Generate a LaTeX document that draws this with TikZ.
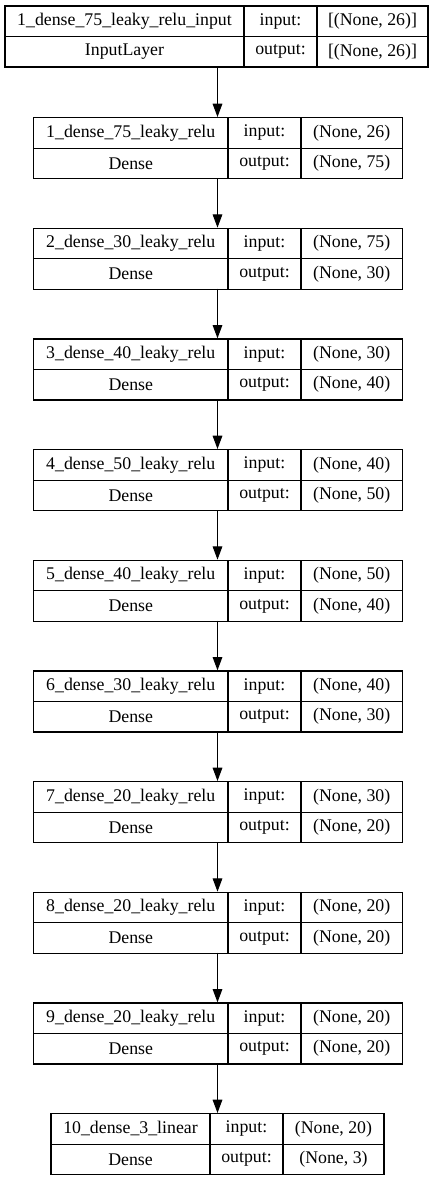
\documentclass[tikz,border=0pt]{standalone}
\usepackage{fontspec}
\setmainfont{Liberation Serif}
\usetikzlibrary{arrows.meta}
\tikzset{
  cell/.style={draw=black, line width=1.2pt, inner sep=0pt, font=\fontsize{17.8}{21}\selectfont},
  outer/.style={inner sep=0pt, outer sep=0pt},
  arr/.style={draw=black, line width=1.2pt, -{Triangle[length=13.3pt,width=9.6pt]}}
}
\newcommand\layer[6]{%
  \pgfmathsetmacro\yA{#2}%
  \pgfmathsetmacro\yB{#2+30.5}%
  \pgfmathsetmacro\cA{(\xa+\xb)/2}%
  \pgfmathsetmacro\cB{(\xb+\xc)/2}%
  \pgfmathsetmacro\cC{(\xc+\xd)/2}%
  \node[outer, minimum width=\xd pt-\xa pt, minimum height=61pt, anchor=north west] (#1) at (\xa,\yA) {};
  \node[cell, minimum width=\xb pt-\xa pt, minimum height=30.5pt, anchor=north] (#1n) at (\cA,\yA) {#3};
  \node[cell, minimum width=\xc pt-\xb pt, minimum height=30.5pt, anchor=north] (#1i) at (\cB,\yA) {input:};
  \node[cell, minimum width=\xd pt-\xc pt, minimum height=30.5pt, anchor=north] (#1is) at (\cC,\yA) {#5};
  \node[cell, minimum width=\xb pt-\xa pt, minimum height=30.5pt, anchor=north] (#1t) at (\cA,\yB) {#4};
  \node[cell, minimum width=\xc pt-\xb pt, minimum height=30.5pt, anchor=north] (#1o) at (\cB,\yB) {output:};
  \node[cell, minimum width=\xd pt-\xc pt, minimum height=30.5pt, anchor=north] (#1os) at (\cC,\yB) {#6};
}
\begin{document}
\begin{tikzpicture}[x=1pt,y=-1pt]
\useasboundingbox (0,0) rectangle (436,1180);
\coordinate (ax) at (217.5,0);
\def\xa{5}\def\xb{244}\def\xc{317}\def\xd{428}
\layer{L0}{5.5}{1\_dense\_75\_leaky\_relu\_input}{InputLayer}{[(None, 26)]}{[(None, 26)]}
\def\xa{33.5}\def\xb{228}\def\xc{301}\def\xd{402.5}
\layer{L1}{117}{1\_dense\_75\_leaky\_relu}{Dense}{(None, 26)}{(None, 75)}
\layer{L2}{227.67}{2\_dense\_30\_leaky\_relu}{Dense}{(None, 75)}{(None, 30)}
\layer{L3}{338.33}{3\_dense\_40\_leaky\_relu}{Dense}{(None, 30)}{(None, 40)}
\layer{L4}{449}{4\_dense\_50\_leaky\_relu}{Dense}{(None, 40)}{(None, 50)}
\layer{L5}{559.67}{5\_dense\_40\_leaky\_relu}{Dense}{(None, 50)}{(None, 40)}
\layer{L6}{670.33}{6\_dense\_30\_leaky\_relu}{Dense}{(None, 40)}{(None, 30)}
\layer{L7}{781}{7\_dense\_20\_leaky\_relu}{Dense}{(None, 30)}{(None, 20)}
\layer{L8}{891.67}{8\_dense\_20\_leaky\_relu}{Dense}{(None, 20)}{(None, 20)}
\layer{L9}{1002.33}{9\_dense\_20\_leaky\_relu}{Dense}{(None, 20)}{(None, 20)}
\def\xa{51}\def\xb{210}\def\xc{283}\def\xd{384}
\layer{L10}{1113}{10\_dense\_3\_linear}{Dense}{(None, 20)}{(None, 3)}
\foreach \a/\b in {L0/L1,L1/L2,L2/L3,L3/L4,L4/L5,L5/L6,L6/L7,L7/L8,L8/L9,L9/L10}
  \draw[arr] (\a.south -| ax) -- (\b.north -| ax);
\end{tikzpicture}
\end{document}
